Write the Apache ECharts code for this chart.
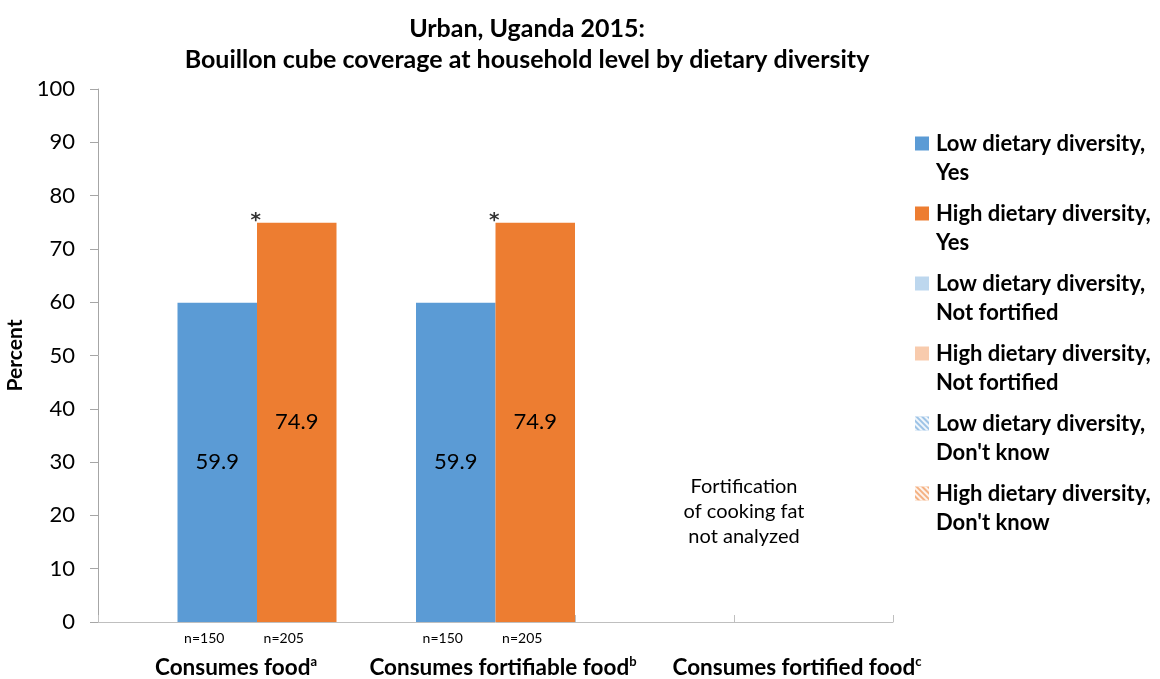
<!DOCTYPE html>
<html><head><meta charset="utf-8">
<script src="https://cdn.jsdelivr.net/npm/echarts@6/dist/echarts.min.js"></script>
<style>html,body{margin:0;padding:0;background:#fff}#c{width:1160px;height:679px}</style>
</head><body><div id="c"></div>
<script>
// ---- data ----
const titleLines = ['Urban, Uganda 2015:', 'Bouillon cube coverage at household level by dietary diversity'];
const groups = ['Consumes food', 'Consumes fortifiable food', 'Consumes fortified food'];
const groupSup = ['a', 'b', 'c'];
const seriesNames = [
  'Low dietary diversity,\nYes',
  'High dietary diversity,\nYes',
  'Low dietary diversity,\nNot fortified',
  'High dietary diversity,\nNot fortified',
  "Low dietary diversity,\nDon't know",
  "High dietary diversity,\nDon't know"
];
const lowYes = [59.9, 59.9, null];
const highYes = [74.9, 74.9, null];
const lowNotFortified = [null, null, null];
const highNotFortified = [null, null, null];
const lowDontKnow = [null, null, null];
const highDontKnow = [null, null, null];
const lowN = ['n=150', 'n=150', ''];
const highN = ['n=205', 'n=205', ''];
const significant = [true, true, false];
const yMin = 0, yMax = 100, yInterval = 10;
const yAxisName = 'Percent';
const noteLines = ['Fortification', 'of cooking fat', 'not analyzed'];

// ---- layout helpers (slots: each group = empty, low, high; plus one trailing) ----
const SLOTS = groups.length * 3 + 1;
const slotKeys = Array.from({length: SLOTS}, (_, i) => 's' + i);
const slotLabels = Array(SLOTS).fill('');
groups.forEach((g, i) => { slotLabels[3 * i + 1] = lowN[i]; slotLabels[3 * i + 2] = highN[i]; });
function toSlots(arr, k) {
  const out = Array(SLOTS).fill('-');
  arr.forEach((v, g) => { if (v != null) out[3 * g + 1 + k] = v; });
  return out;
}
const starData = toSlots(highYes.map((v, i) => significant[i] ? v : null), 1);

const colors = ['#5B9BD5', '#ED7D31', '#BDD7EE', '#F8CBAD', '#9DC3E6', '#F4B183'];
const FONT = 'Lato, "Open Sans", sans-serif';

function barSeries(idx, arr, k, showLabel, decal) {
  const s = {
    name: seriesNames[idx], type: 'bar', data: toSlots(arr, k),
    barGap: '-100%', barCategoryGap: 0,
    itemStyle: { color: colors[idx] },
    label: {
      show: showLabel, position: 'inside', color: '#000', fontSize: 22, fontFamily: FONT,
      formatter: p => Number(p.value).toFixed(1)
    }
  };
  if (decal) s.itemStyle.decal = {
    symbol: 'rect', symbolSize: 1, dashArrayX: [1, 0], dashArrayY: [2, 2],
    rotation: Math.PI / 4, color: 'rgba(255,255,255,0.85)'
  };
  return s;
}

const chart = echarts.init(document.getElementById('c'));
const graphics = [
  { type: 'text', x: 527, y: 44, style: { text: titleLines.join('\n'), textAlign: 'center', textVerticalAlign: 'middle',
    font: 'bold 25px ' + FONT, lineHeight: 31, fill: '#000' } },
  { type: 'text', x: 744, y: 512, style: { text: noteLines.join('\n'), textAlign: 'center', textVerticalAlign: 'middle',
    font: '20px ' + FONT, lineHeight: 25, fill: '#000' } }
];
const groupLabelX = [236, 503, 797];
groups.forEach((g, i) => {
  graphics.push({ type: 'text', x: groupLabelX[i], y: 668, style: {
    text: '{m|' + g + '}{s|' + groupSup[i] + '}', textAlign: 'center', textVerticalAlign: 'middle',
    rich: {
      m: { fontSize: 22.5, fontWeight: 'bold', fontFamily: FONT, fill: '#000', lineHeight: 26 },
      s: { fontSize: 13, fontWeight: 'bold', fontFamily: FONT, fill: '#000', verticalAlign: 'top', lineHeight: 26 }
    }
  }});
});

chart.setOption({
  animation: false,
  backgroundColor: '#fff',
  grid: { left: 98, right: 267, top: 89, bottom: 57, containLabel: false, outerBoundsMode: 'none' },
  legend: {
    data: seriesNames, orient: 'vertical', left: 915, top: 129, padding: 0,
    itemWidth: 14, itemHeight: 43, itemGap: 12,
    // square in the upper third of the icon box so it lines up with the first text line
    icon: 'path://M0,0H14V14H0Z M0,43',
    textStyle: { fontSize: 22, fontWeight: 'bold', fontFamily: FONT, color: '#000', lineHeight: 29, padding: [0, 0, 0, 2] }
  },
  xAxis: {
    type: 'category', data: slotKeys, boundaryGap: true,
    axisLine: { lineStyle: { color: '#bfbfbf', width: 1 } },
    axisTick: { show: true, inside: true, length: 7, interval: i => i % 2 === 0, lineStyle: { color: '#bfbfbf' } },
    axisLabel: { interval: 0, margin: 9, fontSize: 14, fontFamily: FONT, color: '#000', padding: [0, 26, 0, 0],
      formatter: (v, i) => slotLabels[i] },
    splitLine: { show: false }
  },
  yAxis: {
    type: 'value', min: yMin, max: yMax, interval: yInterval,
    name: yAxisName, nameLocation: 'middle', nameGap: 63, nameRotate: 90,
    nameTextStyle: { fontSize: 21, fontWeight: 'bold', fontFamily: FONT, color: '#000' },
    axisLine: { show: true, lineStyle: { color: '#a6a6a6' } },
    axisTick: { show: true, length: 8, lineStyle: { color: '#a6a6a6' } },
    axisLabel: { margin: 23, fontSize: 22, fontFamily: FONT, color: '#000' },
    splitLine: { show: false }
  },
  graphic: graphics,
  series: [
    barSeries(0, lowYes, 0, true),
    barSeries(1, highYes, 1, true),
    barSeries(2, lowNotFortified, 0, false),
    barSeries(3, highNotFortified, 1, false),
    barSeries(4, lowDontKnow, 0, false, true),
    barSeries(5, highDontKnow, 1, false, true),
    {
      name: 'significance', type: 'scatter', data: starData, symbolSize: 0, z: 5,
      label: { show: true, formatter: '*', position: 'top', distance: 0, offset: [-41, 8],
        fontSize: 20, fontWeight: 'bold', fontFamily: '"DejaVu Sans", sans-serif', color: '#000' }
    }
  ]
});
</script>
</body></html>
